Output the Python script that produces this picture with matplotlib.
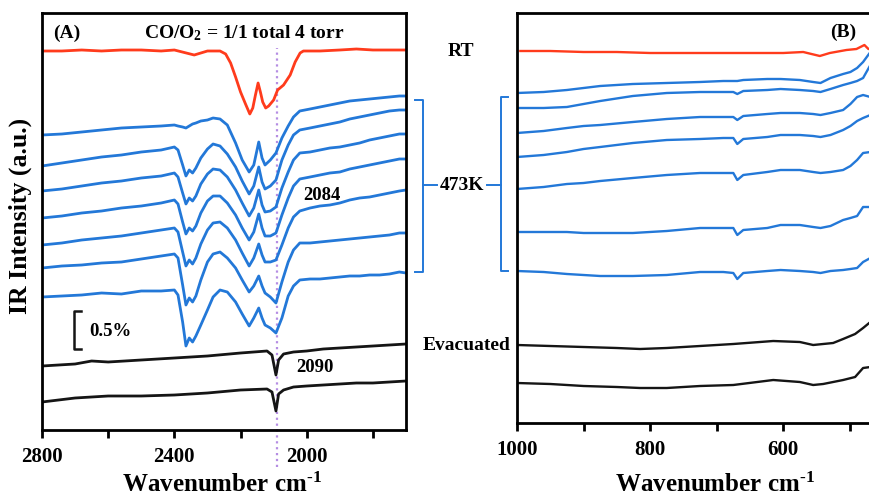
#! /usr/bin/env python

'''
In-situ IR spectra, CO/O2 = 1/1 (RT, 473K, evacuated)
'''

import matplotlib.pyplot as plt
from matplotlib.lines import Line2D

plt.rcParams['font.family'] = 'Liberation Serif'
plt.rcParams['font.weight'] = 'bold'
plt.rcParams['mathtext.fontset'] = 'custom'
plt.rcParams['mathtext.rm'] = 'Liberation Serif:bold'
plt.rcParams['mathtext.it'] = 'Liberation Serif:bold'
plt.rcParams['mathtext.bf'] = 'Liberation Serif:bold'

# ---------------- panel (A): 2800 - 1700 cm-1 ----------------
wn_rt_a = [2800, 2740, 2680, 2620, 2560, 2500, 2440, 2400, 2340, 2300, 2262, 2245, 2230, 2215,
           2200, 2185, 2172, 2163, 2155, 2147, 2140, 2133, 2124, 2115, 2100, 2088, 2070, 2050,
           2035, 2020, 2010, 1960, 1900, 1850, 1800, 1750, 1700]
rt_a = [389, 389, 390, 389, 390, 390, 389, 390, 385, 389, 389, 386, 377, 363,
        348, 336, 326, 332, 345, 357, 348, 338, 332, 334, 340, 350, 355, 365,
        378, 387, 389, 389, 390, 391, 390, 390, 390]

wn_a = [2800, 2740, 2680, 2620, 2560, 2500, 2440, 2400, 2389, 2375, 2365, 2355, 2345, 2335,
        2320, 2300, 2283, 2262, 2240, 2215, 2195, 2174, 2160, 2145, 2135, 2126, 2110, 2093,
        2075, 2056, 2040, 2021, 1990, 1960, 1930, 1900, 1870, 1840, 1810, 1780, 1750, 1720, 1700]
hot_a1 = [305, 306, 308, 310, 312, 313, 314, 315, 314, 313, 312, 314, 316, 317,
          319, 320, 322, 321, 315, 297, 280, 268, 275, 298, 282, 275, 280, 287,
          302, 314, 323, 329, 331, 333, 335, 337, 339, 340, 341, 342, 343, 344, 344]
hot_a2 = [274, 277, 280, 283, 285, 288, 290, 293, 290, 275, 264, 270, 267, 272,
          282, 291, 296, 294, 286, 273, 259, 246, 254, 273, 258, 251, 254, 260,
          280, 295, 305, 310, 312, 314, 316, 318, 321, 323, 325, 327, 329, 330, 330]
hot_a3 = [249, 251, 254, 257, 259, 262, 264, 267, 263, 247, 236, 242, 239, 244,
          256, 266, 271, 270, 263, 250, 237, 224, 232, 250, 235, 228, 229, 233,
          252, 268, 280, 287, 288, 290, 292, 293, 295, 297, 300, 302, 304, 306, 306]
hot_a4 = [222, 224, 227, 229, 232, 234, 237, 240, 236, 218, 206, 212, 209, 214,
          227, 239, 244, 244, 237, 225, 212, 200, 208, 226, 212, 204, 204, 207,
          225, 242, 254, 261, 263, 265, 267, 268, 271, 273, 275, 277, 279, 281, 281]
hot_a5 = [195, 197, 200, 202, 204, 207, 210, 212, 208, 188, 174, 180, 176, 182,
          196, 210, 217, 218, 212, 200, 187, 174, 182, 196, 185, 178, 178, 180,
          195, 212, 223, 229, 232, 234, 235, 237, 240, 242, 243, 245, 247, 249, 250]
hot_a6 = [172, 174, 175, 177, 178, 181, 184, 186, 182, 155, 135, 142, 138, 144,
          160, 178, 186, 188, 182, 172, 160, 148, 154, 164, 154, 147, 143, 137,
          158, 178, 190, 197, 197, 198, 199, 200, 201, 202, 203, 204, 205, 207, 207]
hot_a7 = [143, 144, 145, 147, 146, 149, 149, 150, 145, 118, 94, 102, 98, 104,
          115, 130, 143, 150, 148, 138, 126, 114, 122, 132, 122, 115, 112, 107,
          122, 144, 154, 160, 161, 161, 162, 163, 164, 164, 165, 165, 166, 168, 167]

wn_ev_a = [2800, 2700, 2650, 2600, 2500, 2400, 2300, 2200, 2120, 2105, 2093, 2085, 2070,
           2040, 2000, 1950, 1900, 1850, 1800, 1750, 1700]
evac_a1 = [74, 76, 79, 78, 80, 82, 84, 87, 89, 85, 65, 80, 86, 88, 89, 91, 92, 93, 94, 95, 96]
evac_a2 = [38, 42, 43, 44, 44, 45, 47, 50, 51, 48, 29, 46, 50, 53, 54, 55, 56, 57, 57, 58, 59]

# ---------------- panel (B): 1000 - 450 cm-1 ----------------
wn_rt_b = [995, 950, 900, 850, 800, 750, 700, 650, 600, 570, 545, 530, 505, 490, 478, 472, 466]
rt_b = [389, 389, 388, 388, 387, 387, 387, 387, 387, 388, 384, 387, 390, 391, 395, 391, 392]

wn_b = [1000, 960, 925, 900, 875, 826, 775, 725, 690, 675, 669, 660,
        624, 604, 575, 555, 544, 529, 510, 499, 489, 480, 469, 466]
hot_b1 = [347, 348, 350, 352, 354, 356, 357, 358, 359, 359, 359, 360,
          361, 361, 360, 358, 357, 362, 366, 368, 372, 378, 388, 390]
hot_b2 = [332, 332, 333, 336, 339, 344, 347, 348, 348, 348, 346, 349,
          350, 351, 350, 349, 348, 351, 355, 357, 359, 362, 375, 378]
hot_b3 = [307, 309, 312, 314, 315, 318, 321, 323, 323, 323, 320, 324,
          326, 327, 327, 326, 325, 327, 330, 336, 343, 345, 343, 343]
hot_b4 = [283, 285, 288, 291, 293, 297, 300, 301, 302, 302, 296, 301,
          303, 305, 305, 304, 303, 305, 310, 314, 319, 322, 325, 326]
hot_b5 = [251, 253, 256, 257, 259, 262, 265, 267, 267, 267, 260, 265,
          268, 270, 270, 268, 267, 268, 270, 274, 280, 287, 288, 289]
hot_b6 = [208, 208, 208, 207, 207, 207, 209, 212, 212, 212, 205, 210,
          212, 215, 215, 213, 212, 214, 220, 222, 224, 233, 233, 234]
hot_b7 = [169, 168, 166, 165, 164, 164, 165, 168, 168, 167, 161, 167,
          169, 170, 169, 168, 167, 169, 170, 171, 172, 178, 182, 183]

wn_ev_b = [1000, 950, 900, 850, 815, 775, 725, 675, 615, 575, 555, 540, 525, 510, 492, 480, 469, 466]
evac_b1 = [95, 94, 93, 92, 91, 92, 94, 96, 99, 98, 95, 96, 97, 101, 106, 112, 118, 120]
evac_b2 = [57, 56, 54, 53, 52, 52, 54, 55, 60, 58, 55, 56, 58, 60, 63, 72, 73, 74]

hot_a = [hot_a1, hot_a2, hot_a3, hot_a4, hot_a5, hot_a6, hot_a7]
hot_b = [hot_b1, hot_b2, hot_b3, hot_b4, hot_b5, hot_b6, hot_b7]

co_band = 2090      # dotted marker line
scale_05 = 38       # 0.5 % in a.u.

#########################

RED = '#ff3b1c'
BLUE = '#2378d8'
BLACK = '#151515'
width = 2.0
width_b = 1.7
W, H = 870, 498


def fx(x):
    return x / W


def fy(y):
    return 1 - y / H


fig = plt.figure(figsize=(8.7, 4.98), dpi=100)
axA = fig.add_axes([fx(42), fy(430), (406 - 42) / W, (430 - 13) / H])
axB = fig.add_axes([fx(517), fy(423), (913 - 517) / W, (423 - 13) / H])

axA.plot(wn_rt_a, rt_a, color=RED, linewidth=width)
for tr in hot_a:
    axA.plot(wn_a, tr, color=BLUE, linewidth=width)
axA.plot(wn_ev_a, evac_a1, color=BLACK, linewidth=width)
axA.plot(wn_ev_a, evac_a2, color=BLACK, linewidth=width)
axA.plot([co_band, co_band], [-27, 392], color='#b58de3', linestyle=':', linewidth=1.6,
         clip_on=False, zorder=0)
# scale bar
axA.plot([2682, 2703, 2703, 2682], [129, 129, 129 - scale_05, 129 - scale_05],
         color=BLACK, linewidth=1.8)

axB.plot(wn_rt_b, rt_b, color=RED, linewidth=width_b)
for tr in hot_b:
    axB.plot(wn_b, tr, color=BLUE, linewidth=width_b)
axB.plot(wn_ev_b, evac_b1, color=BLACK, linewidth=width_b)
axB.plot(wn_ev_b, evac_b2, color=BLACK, linewidth=width_b)

axA.set_xlim(2800, 1700)
axA.set_ylim(10, 427)
axA.set_xticks([2800, 2400, 2000])
axA.set_xticks([2600, 2200, 1800], minor=True)

axB.set_xlim(1000, 405)
axB.set_ylim(17, 427)
axB.set_xticks([1000, 800, 600])
axB.set_xticks([900, 700, 500], minor=True)

for ax in (axA, axB):
    ax.set_yticks([])
    for s in ax.spines.values():
        s.set_linewidth(2)
    ax.tick_params(axis='x', which='both', direction='out', length=6, width=2,
                   labelsize=15, pad=6)

xlab = 'Wavenumber cm$^{\\text{-1}}$'
fig.text(fx(222), fy(485), xlab, ha='center', va='center', fontsize=18)
fig.text(fx(715), fy(485), xlab, ha='center', va='center', fontsize=18)
fig.text(fx(20), fy(216), 'IR Intensity (a.u.)', ha='center', va='center', fontsize=18.5,
         rotation=90)

fig.text(fx(67), fy(33), '(A)', ha='center', va='center', fontsize=14)
fig.text(fx(244), fy(33), 'CO/O$_2$ = 1/1 total 4 torr', ha='center', va='center', fontsize=14)
fig.text(fx(843), fy(32), '(B)', ha='center', va='center', fontsize=14)
fig.text(fx(461), fy(52), 'RT', ha='center', va='center', fontsize=14)
fig.text(fx(462), fy(186), '473K', ha='center', va='center', fontsize=14)
fig.text(fx(511), fy(346), 'Evacuated', ha='right', va='center', fontsize=14)
fig.text(fx(322), fy(195), '2084', ha='center', va='center', fontsize=13.5)
fig.text(fx(315), fy(367), '2090', ha='center', va='center', fontsize=13.5)
fig.text(fx(110), fy(332), '0.5%', ha='center', va='center', fontsize=13.5)

# brackets around the 473K spectra
for xs, ys in [([415, 423, 423, 415], [100, 100, 272, 272]),
               ([423, 437], [185, 185]),
               ([508, 501, 501, 508], [97, 97, 271, 271]),
               ([487, 501], [185, 185])]:
    fig.add_artist(Line2D([fx(v) for v in xs], [fy(v) for v in ys],
                          color=BLUE, linewidth=1.4))

plt.savefig('out.png', dpi=100)
